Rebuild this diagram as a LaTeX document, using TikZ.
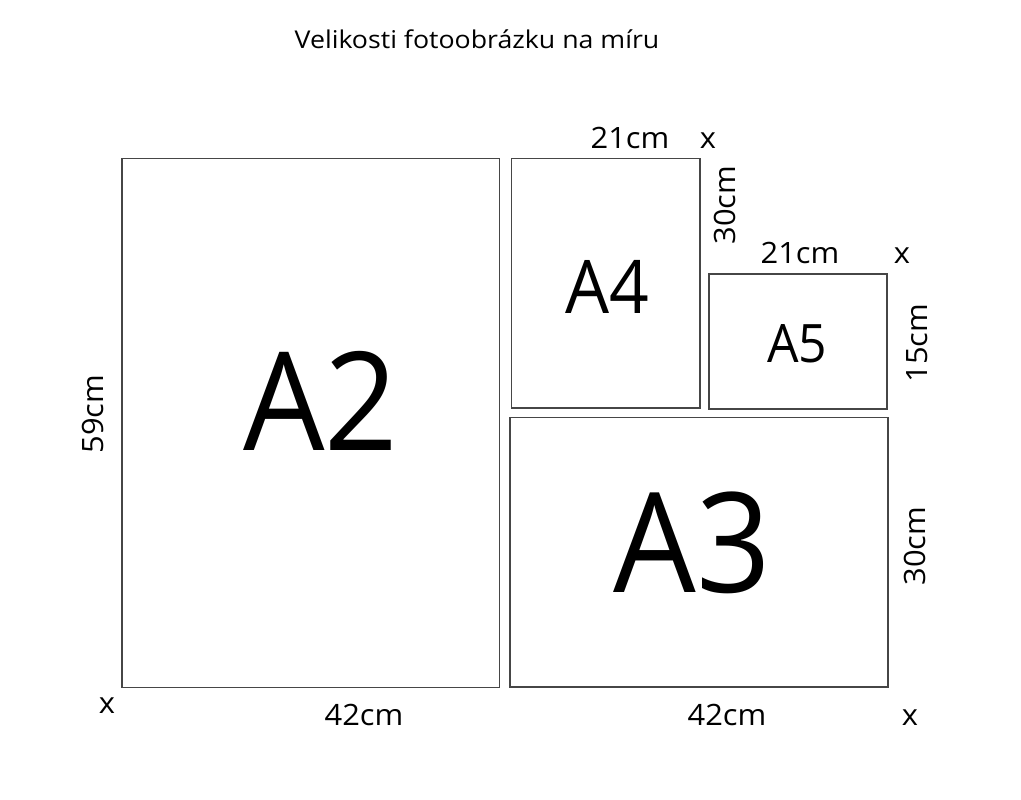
\documentclass[tikz,border=0pt]{standalone}
\usepackage{fontspec}
\setmainfont{Open Sans}
\newfontfamily\bigfam{Open Sans}[FakeStretch=0.94]
\newfontfamily\lblfam{Open Sans}[FakeStretch=1.05]
\newfontfamily\ttlfam{Open Sans}[FakeStretch=1.09]
\begin{document}
\begin{tikzpicture}[x=1pt,y=-1pt,
  sheet/.style={draw=gray!55!black,line width=1.1pt},
  lbl/.style={inner sep=0pt,anchor=base,font=\lblfam\fontsize{29.4}{30}\selectfont},
  vlbl/.style={lbl,rotate=90},
  big/.style={inner sep=0pt,anchor=base,font=\bigfam\fontsize{137}{140}\selectfont},
  ttl/.style={inner sep=0pt,anchor=base,font=\ttlfam\fontsize{24.5}{25}\selectfont}]
\useasboundingbox[fill=white] (0,0) rectangle (1021,800);
% sheets
\draw[sheet] (122,158.3) rectangle (499.7,687.5);
\draw[sheet] (511.3,158.3) rectangle (700,408);
\draw[sheet] (709,274) rectangle (887,409);
\draw[sheet] (510,417.7) rectangle (888,687);
% title
\node[ttl] (title) at (477,49) {Velikosti fotoobrázku na míru};
% big labels
\node[big] (a2) at (321,450) {A2};
\node[big,font=\bigfam\fontsize{139}{141}\selectfont] (a3) at (692,592) {A3};
\node[big,font=\bigfam\fontsize{74}{76}\selectfont] (a4) at (607,313) {A4};
\node[big,font=\bigfam\fontsize{53}{54}\selectfont] (a5) at (797,362) {A5};
% dimensions
\node[lbl] (a4w) at (630,148) {21cm};
\node[lbl] (a4x) at (708,148) {x};
\node[vlbl] (a4h) at (735,205) {30cm};
\node[lbl] (a5w) at (800,263) {21cm};
\node[lbl] (a5x) at (902,263) {x};
\node[vlbl] (a5h) at (927,343) {15cm};
\node[vlbl] (a3h) at (925,546) {30cm};
\node[vlbl] (a2h) at (103,414) {59cm};
\node[lbl] (a2x) at (107,713) {x};
\node[lbl] (a2w) at (364,725) {42cm};
\node[lbl] (a3w) at (727,725) {42cm};
\node[lbl] (a3x) at (910,725) {x};
\end{tikzpicture}
\end{document}
